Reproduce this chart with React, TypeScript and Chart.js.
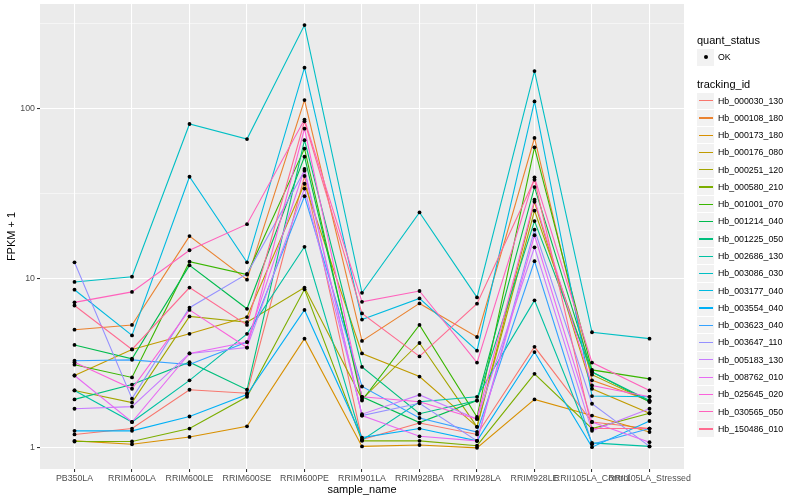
import React, { useEffect, useRef } from "react";
import { Chart, registerables } from "chart.js";

Chart.register(...registerables);

const categories = [
  "PB350LA", "RRIM600LA", "RRIM600LE", "RRIM600SE", "RRIM600PE", "RRIM901LA",
  "RRIM928BA", "RRIM928LA", "RRIM928LE", "RRII105LA_Control", "RRII105LA_Stressed",
];

const trackingIds = [
  "Hb_000030_130", "Hb_000108_180", "Hb_000173_180", "Hb_000176_080", "Hb_000251_120",
  "Hb_000580_210", "Hb_001001_070", "Hb_001214_040", "Hb_001225_050", "Hb_002686_130",
  "Hb_003086_030", "Hb_003177_040", "Hb_003554_040", "Hb_003623_040", "Hb_003647_110",
  "Hb_005183_130", "Hb_008762_010", "Hb_025645_020", "Hb_030565_050", "Hb_150486_010",
];

const colors = [
  "#F8766D", "#EA8331", "#D89000", "#C09B00", "#A3A500", "#7CAE00", "#39B600", "#00BB4E",
  "#00BF7D", "#00C1A3", "#00BFC4", "#00BAE0", "#00B0F6", "#35A2FF", "#9590FF", "#C77CFF",
  "#E76BF3", "#FA62DB", "#FF62BC", "#FF6C91",
];

// FPKM + 1 per sample, in category order
const hb_000030_130 = [1.2, 1.3, 2.2, 2.1, 40, 1.12, 1.4, 1.2, 3.94, 1.42, 1.3];
const hb_000108_180 = [4.97, 5.3, 17.7, 9.8, 112, 4.27, 7.1, 4.5, 67, 2.5, 1.9];
const hb_000173_180 = [1.1, 1.05, 1.16, 1.34, 4.4, 1.02, 1.04, 1.0, 1.93, 1.55, 1.24];
const hb_000176_080 = [2.67, 3.8, 4.7, 5.9, 36, 3.6, 2.63, 1.33, 28.2, 2.23, 1.6];
const hb_000251_120 = [2.18, 1.85, 5.95, 5.5, 8.8, 1.94, 4.15, 1.33, 25, 2.7, 1.87];
const hb_000580_210 = [1.09, 1.09, 1.3, 2.0, 8.6, 1.1, 1.1, 1.03, 2.73, 1.3, 1.6];
const hb_001001_070 = [3.09, 2.6, 12.5, 10.5, 58, 1.9, 5.3, 1.52, 59, 2.88, 2.55];
const hb_001214_040 = [4.04, 3.35, 11.9, 6.6, 52, 2.0, 1.41, 1.9, 34.4, 2.8, 1.87];
const hb_001225_050 = [1.93, 2.36, 3.2, 2.2, 65, 3.0, 1.59, 1.9, 21.7, 2.8, 1.9];
const hb_002686_130 = [2.18, 1.42, 2.5, 4.7, 15.3, 1.11, 1.87, 2.0, 7.4, 1.07, 1.02];
const hb_003086_030 = [9.5, 10.2, 81, 66, 310, 8.2, 24.4, 7.7, 166, 4.8, 4.4];
const hb_003177_040 = [8.55, 4.6, 39.6, 12.4, 174, 5.7, 7.6, 3.74, 110, 2.02, 2.0];
const hb_003554_040 = [1.26, 1.26, 1.53, 2.06, 6.5, 1.15, 1.3, 1.1, 3.67, 1.01, 1.44];
const hb_003623_040 = [3.26, 3.3, 3.1, 4.2, 30.4, 2.3, 1.5, 1.24, 12.6, 1.05, 1.3];
const hb_003647_110 = [12.4, 1.95, 6.7, 10.6, 43, 1.55, 1.83, 1.1, 19.3, 1.82, 1.02];
const hb_005183_130 = [1.7, 1.75, 3.6, 3.9, 33.7, 1.58, 2.05, 1.48, 15.2, 1.26, 1.7];
const hb_008762_010 = [2.67, 1.42, 3.6, 4.2, 44, 1.55, 1.17, 1.1, 17.9, 1.42, 1.08];
const hb_025645_020 = [3.2, 2.23, 6.5, 3.9, 76, 2.0, 1.87, 1.48, 29, 2.33, 2.0];
const hb_030565_050 = [7.2, 8.3, 14.6, 20.8, 86, 7.25, 8.4, 3.18, 39.3, 3.18, 2.18];
const hb_150486_010 = [6.9, 3.8, 8.8, 5.3, 84, 6.2, 3.46, 7.07, 38, 1.3, 1.3];

const seriesValues = [
  hb_000030_130, hb_000108_180, hb_000173_180, hb_000176_080, hb_000251_120,
  hb_000580_210, hb_001001_070, hb_001214_040, hb_001225_050, hb_002686_130,
  hb_003086_030, hb_003177_040, hb_003554_040, hb_003623_040, hb_003647_110,
  hb_005183_130, hb_008762_010, hb_025645_020, hb_030565_050, hb_150486_010,
];

const yTicks = [1, 3.1623, 10, 31.623, 100, 316.23];

const FONT = "'Liberation Sans', Arial, Helvetica, sans-serif";

const isMajor = (v: number) => {
  const l = Math.log10(v);
  return Math.abs(l - Math.round(l)) < 0.01;
};

const panelBg = {
  id: "panelBg",
  beforeDraw(chart: any) {
    const { ctx, chartArea } = chart;
    ctx.save();
    ctx.fillStyle = "#EBEBEB";
    ctx.fillRect(chartArea.left, chartArea.top, chartArea.right - chartArea.left, chartArea.bottom - chartArea.top);
    ctx.restore();
  },
};

export default function App() {
  const ref = useRef<HTMLCanvasElement | null>(null);

  useEffect(() => {
    if (!ref.current) return;
    const n = seriesValues.length;
    const lineSets: any[] = seriesValues.map((vals, s) => ({
      type: "line",
      label: trackingIds[s],
      data: vals.map((v, i) => ({ x: i, y: v })),
      borderColor: colors[s],
      backgroundColor: colors[s],
      borderWidth: 1.1,
      pointRadius: 0,
      tension: 0,
      fill: false,
      order: n - s + 1,
    }));
    const pts: any[] = [];
    seriesValues.forEach((vals) => vals.forEach((v, i) => pts.push({ x: i, y: v })));
    const pointSet: any = {
      type: "scatter",
      label: "OK",
      data: pts,
      pointRadius: 1.9,
      pointBackgroundColor: "#000",
      pointBorderWidth: 0,
      showLine: false,
      order: 0,
    };

    const chart = new Chart(ref.current, {
      type: "line",
      data: { datasets: [...lineSets, pointSet] },
      plugins: [panelBg],
      options: {
        animation: false,
        responsive: false,
        devicePixelRatio: 1,
        layout: { padding: { top: 4, right: 116, bottom: 0, left: 0 } },
        plugins: { legend: { display: false }, tooltip: { enabled: false } },
        scales: {
          x: {
            type: "linear",
            min: -0.6,
            max: 10.6,
            afterBuildTicks: (scale: any) => {
              scale.ticks = categories.map((_, i) => ({ value: i }));
            },
            afterFit: (scale: any) => {
              scale.height = 31;
              scale.paddingLeft = 0;
              scale.paddingRight = 0;
            },
            ticks: {
              autoSkip: false,
              maxRotation: 0,
              minRotation: 0,
              padding: 1,
              color: "#4D4D4D",
              font: { family: FONT, size: 8.8 },
              callback: (v: any) => categories[Math.round(Number(v))] ?? "",
            },
            grid: { color: "#FFFFFF", lineWidth: 1.07, tickColor: "#333333", tickLength: 3 },
            border: { display: false },
            title: {
              display: true,
              text: "sample_name",
              color: "#000",
              font: { family: FONT, size: 11 },
              padding: { top: 0, bottom: 3.5 },
            },
          },
          y: {
            type: "logarithmic",
            min: 0.7507,
            max: 412.6,
            afterBuildTicks: (scale: any) => {
              scale.ticks = yTicks.map((v) => ({ value: v, major: isMajor(v) }));
            },
            afterFit: (scale: any) => {
              scale.width = 40;
              scale.paddingTop = 0;
              scale.paddingBottom = 0;
            },
            ticks: {
              autoSkip: false,
              padding: 2,
              color: "#4D4D4D",
              font: { family: FONT, size: 8.8 },
              callback: (v: any) => (isMajor(Number(v)) ? String(Math.round(Number(v))) : ""),
            },
            grid: {
              color: "#FFFFFF",
              lineWidth: (ctx: any) => (ctx.tick && isMajor(ctx.tick.value) ? 1.07 : 0.53),
              tickColor: (ctx: any) => (ctx.tick && isMajor(ctx.tick.value) ? "#333333" : "rgba(0,0,0,0)"),
              tickLength: 3,
            },
            border: { display: false },
            title: {
              display: true,
              text: "FPKM + 1",
              color: "#000",
              font: { family: FONT, size: 11 },
              padding: { top: 5.5, bottom: 0 },
            },
          },
        },
      } as any,
    } as any);
    return () => chart.destroy();
  }, []);

  const itemTop = (i: number) => 92.5 + i * 17.28;

  return (
    <div style={{ position: "fixed", left: 0, top: 0, width: 800, height: 500, background: "#fff", fontFamily: FONT }}>
      <canvas ref={ref} width={800} height={500} style={{ position: "absolute", left: 0, top: 0, width: 800, height: 500 }} />
      <div style={{ position: "absolute", left: 697, top: 34, fontSize: 11, lineHeight: "13px", color: "#000", whiteSpace: "nowrap" }}>
        quant_status
      </div>
      <div style={{ position: "absolute", left: 697, top: 48.5, width: 17, height: 17, background: "#F2F2F2" }}>
        <div style={{ position: "absolute", left: 6.5, top: 6.5, width: 4, height: 4, borderRadius: 2, background: "#000" }} />
      </div>
      <div style={{ position: "absolute", left: 718, top: 48.5, height: 17, lineHeight: "17px", fontSize: 8.8, color: "#000" }}>OK</div>
      <div style={{ position: "absolute", left: 697, top: 77.5, fontSize: 11, lineHeight: "13px", color: "#000", whiteSpace: "nowrap" }}>
        tracking_id
      </div>
      {trackingIds.map((id, i) => (
        <React.Fragment key={id}>
          <div style={{ position: "absolute", left: 697, top: itemTop(i), width: 17, height: 16.3, background: "#F2F2F2" }}>
            <div style={{ position: "absolute", left: 1.5, top: 7.6, width: 14, height: 1.2, background: colors[i] }} />
          </div>
          <div style={{ position: "absolute", left: 718, top: itemTop(i), height: 17, lineHeight: "17px", fontSize: 8.8, color: "#000", whiteSpace: "nowrap" }}>
            {id}
          </div>
        </React.Fragment>
      ))}
    </div>
  );
}
